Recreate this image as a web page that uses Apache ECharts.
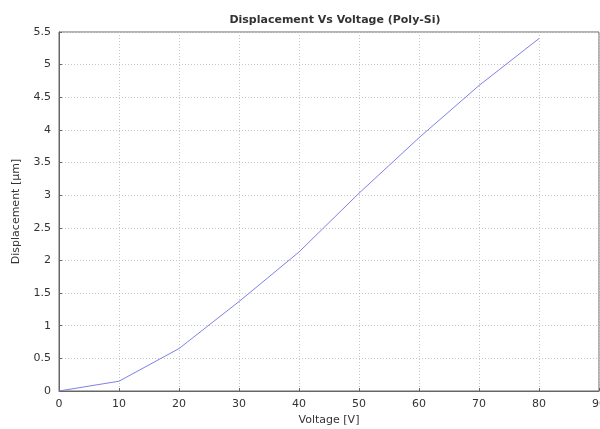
<!DOCTYPE html>
<html><head><meta charset="utf-8">
<script src="https://cdn.jsdelivr.net/npm/echarts@6/dist/echarts.min.js"></script>
<style>html,body{margin:0;padding:0;background:#fff}#c{width:600px;height:429px}</style>
</head><body><div id="c"></div>
<script>
const voltage = [0, 10, 20, 30, 40, 50, 60, 70, 80];
const displacement = [0, 0.15, 0.65, 1.37, 2.13, 3.03, 3.88, 4.68, 5.4];
const xTicks = [0,10,20,30,40,50,60,70,80,90];
const yTicks = [0,0.5,1,1.5,2,2.5,3,3.5,4,4.5,5,5.5];

const chart = echarts.init(document.getElementById('c'), null, {renderer:'canvas'});
const font = 'DejaVu Sans';
chart.setOption({
  animation:false,
  title:{text:'Displacement Vs Voltage (Poly-Si)', left:330, top:10, textAlign:'center',
    textStyle:{fontFamily:font, fontSize:11, fontWeight:'bold', color:'#333'}},
  grid:{left:59, right:1, top:32, bottom:38, outerBoundsMode:'none', containLabel:false},
  xAxis:{type:'value', min:0, max:90, interval:10,
    name:'Voltage [V]', nameLocation:'middle', nameGap:24,
    nameTextStyle:{fontFamily:font, fontSize:11, color:'#333'},
    axisLine:{show:true, lineStyle:{color:'#666'}},
    axisTick:{show:true, inside:true, length:3, lineStyle:{color:'#666'}},
    axisLabel:{fontFamily:font, fontSize:11, color:'#333', margin:8},
    splitLine:{show:true, lineStyle:{color:'#c8c8c8', type:[1,2]}}},
  yAxis:{type:'value', min:0, max:5.5, interval:0.5,
    name:'Displacement [µm]', nameLocation:'middle', nameGap:37, nameRotate:90,
    nameTextStyle:{fontFamily:font, fontSize:11, color:'#333'},
    axisLine:{show:true, lineStyle:{color:'#666'}},
    axisTick:{show:true, inside:true, length:3, lineStyle:{color:'#666'}},
    axisLabel:{fontFamily:font, fontSize:11, color:'#333', margin:8},
    splitLine:{show:true, lineStyle:{color:'#c8c8c8', type:[1,2]}}},
  series:[{type:'line', data:voltage.map((v,i)=>[v,displacement[i]]),
    showSymbol:false, lineStyle:{color:'#7f7fe8', width:1}}],
  graphic:[{type:'rect', shape:{x:59, y:32, width:540, height:359},
    style:{fill:'none', stroke:'#666', lineWidth:1}, silent:true}]
});
</script></body></html>
